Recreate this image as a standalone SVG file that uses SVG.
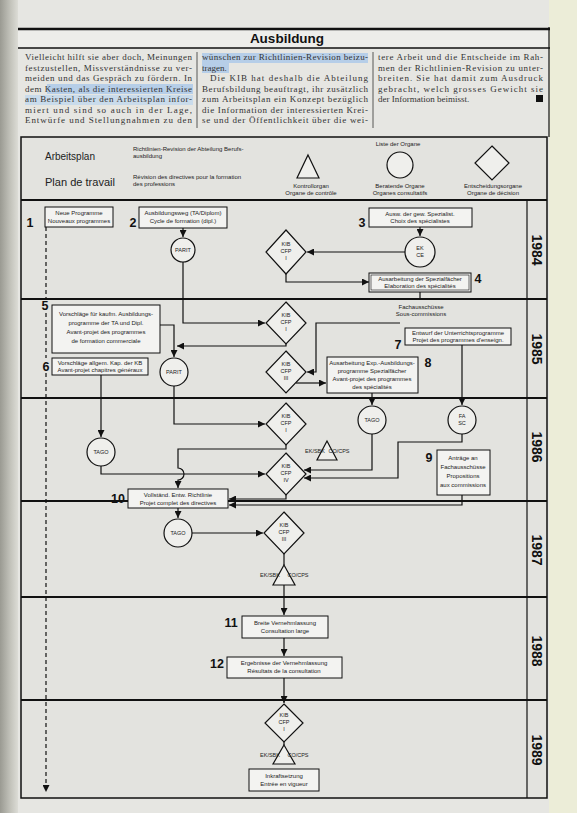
<svg xmlns="http://www.w3.org/2000/svg" width="577" height="813" viewBox="0 0 577 813">
<defs>
<linearGradient id="edge" x1="0" x2="1" y1="0" y2="0">
<stop offset="0" stop-color="#9a9a92"/><stop offset="0.6" stop-color="#c4c4bc"/><stop offset="1" stop-color="#dcdcd6"/>
</linearGradient>
<marker id="ah" viewBox="0 0 10 10" refX="10" refY="5" markerWidth="7" markerHeight="7" orient="auto" markerUnits="userSpaceOnUse"><path d="M0,0 L10,5 L0,10 z" fill="#111"/></marker>
<style>
.ln{fill:none;stroke:#111;stroke-width:1.2}
.ar{fill:none;stroke:#111;stroke-width:1.2;marker-end:url(#ah)}
.bx{fill:#f3f3f1;stroke:#111;stroke-width:1}
.sym{fill:#efefec;stroke:#111;stroke-width:1.2}
.sec{stroke:#111;stroke-width:2.2}
.t{font-family:"Liberation Sans",Arial,sans-serif;font-size:6px;fill:#222;text-anchor:middle}
.s{font-family:"Liberation Sans",Arial,sans-serif;font-size:5.5px;fill:#222;text-anchor:middle}
.num{font-family:"Liberation Sans",Arial,sans-serif;font-weight:bold;font-size:12.5px;fill:#111;text-anchor:middle}
.yr{font-family:"Liberation Sans",Arial,sans-serif;font-weight:bold;font-size:14px;fill:#111;text-anchor:middle}
.body{font-family:"Liberation Serif","Times New Roman",serif;font-size:9px;fill:#333}
.lg{font-family:"Liberation Sans",Arial,sans-serif;font-size:11.5px;fill:#222}
.lgs{font-family:"Liberation Sans",Arial,sans-serif;font-size:6px;fill:#222}
</style>
</defs>

<!-- page -->
<rect x="0" y="0" width="577" height="813" fill="#e6e6e2"/>
<rect x="0" y="0" width="18" height="813" fill="url(#edge)"/>
<rect x="549" y="0" width="28" height="813" fill="#ecedd8"/>

<!-- header -->
<g id="header">
<rect x="18" y="29" width="531" height="19" fill="#ededea"/>
<line x1="18" y1="29" x2="550" y2="29" stroke="#111" stroke-width="2.5"/>
<line x1="18" y1="48" x2="550" y2="48" stroke="#111" stroke-width="1.3"/>
<line x1="549" y1="27" x2="549" y2="137" stroke="#111" stroke-width="1.2"/>
<text x="287" y="43" font-family="Liberation Sans, Arial, sans-serif" font-weight="bold" font-size="13.5" fill="#111" text-anchor="middle">Ausbildung</text>
</g>

<!-- body text -->
<g id="bodytext">
<rect x="47" y="84" width="146" height="10" fill="#aac8ea" opacity="0.8"/>
<rect x="25" y="95" width="168" height="10" fill="#c2d8ee" opacity="0.8"/>
<rect x="202" y="53" width="166" height="10" fill="#aac8ea" opacity="0.8"/>
<rect x="202" y="63" width="27" height="10" fill="#aac8ea" opacity="0.8"/>
<line x1="197" y1="52" x2="197" y2="128" stroke="#333" stroke-width="0.8"/>
<line x1="373" y1="52" x2="373" y2="128" stroke="#333" stroke-width="0.8"/>
<text class="body" x="25" y="60" textLength="167" lengthAdjust="spacing">Vielleicht hilft sie aber doch, Meinungen</text>
<text class="body" x="25" y="70.5" textLength="167" lengthAdjust="spacing">festzustellen, Missverständnisse zu ver-</text>
<text class="body" x="25" y="81" textLength="167" lengthAdjust="spacing">meiden und das Gespräch zu fördern. In</text>
<text class="body" x="25" y="91.5" textLength="167" lengthAdjust="spacing">dem Kasten, als die interessierten Kreise</text>
<text class="body" x="25" y="102" textLength="167" lengthAdjust="spacing">am Beispiel über den Arbeitsplan infor-</text>
<text class="body" x="25" y="112.5" textLength="167" lengthAdjust="spacing">miert und sind so auch in der Lage,</text>
<text class="body" x="25" y="123" textLength="167" lengthAdjust="spacing">Entwürfe und Stellungnahmen zu den</text>
<text class="body" x="202" y="60" textLength="166" lengthAdjust="spacing">wünschen zur Richtlinien-Revision beizu-</text>
<text class="body" x="202" y="70.5">tragen.</text>
<text class="body" x="210" y="81" textLength="158" lengthAdjust="spacing">Die KIB hat deshalb die Abteilung</text>
<text class="body" x="202" y="91.5" textLength="166" lengthAdjust="spacing">Berufsbildung beauftragt, ihr zusätzlich</text>
<text class="body" x="202" y="102" textLength="166" lengthAdjust="spacing">zum Arbeitsplan ein Konzept bezüglich</text>
<text class="body" x="202" y="112.5" textLength="166" lengthAdjust="spacing">die Information der interessierten Krei-</text>
<text class="body" x="202" y="123" textLength="166" lengthAdjust="spacing">se und der Öffentlichkeit über die wei-</text>
<text class="body" x="378" y="60" textLength="165" lengthAdjust="spacing">tere Arbeit und die Entscheide im Rah-</text>
<text class="body" x="378" y="70.5" textLength="165" lengthAdjust="spacing">men der Richtlinien-Revision zu unter-</text>
<text class="body" x="378" y="81" textLength="165" lengthAdjust="spacing">breiten. Sie hat damit zum Ausdruck</text>
<text class="body" x="378" y="91.5" textLength="165" lengthAdjust="spacing">gebracht, welch grosses Gewicht sie</text>
<text class="body" x="378" y="102">der Information beimisst.</text>
<rect x="536" y="95" width="7" height="7" fill="#111"/>
</g>

<!-- chart frame and sections -->
<g id="frame">
<rect x="21" y="137" width="526" height="661" fill="#e3e3df" stroke="#111" stroke-width="1.5"/>
<line x1="527" y1="200" x2="527" y2="798" stroke="#111" stroke-width="1.2"/>
<line class="sec" x1="21" y1="200" x2="547" y2="200"/>
<line class="sec" x1="21" y1="299" x2="547" y2="299"/>
<line class="sec" x1="21" y1="398" x2="547" y2="398"/>
<line class="sec" x1="21" y1="501" x2="547" y2="501"/>
<line class="sec" x1="21" y1="597" x2="547" y2="597"/>
<line class="sec" x1="21" y1="700" x2="547" y2="700"/>
<text class="yr" transform="translate(532,250) rotate(90)">1984</text>
<text class="yr" transform="translate(532,349) rotate(90)">1985</text>
<text class="yr" transform="translate(532,447) rotate(90)">1986</text>
<text class="yr" transform="translate(532,550) rotate(90)">1987</text>
<text class="yr" transform="translate(532,651) rotate(90)">1988</text>
<text class="yr" transform="translate(532,750) rotate(90)">1989</text>
</g>

<!-- legend -->
<g id="legend">
<text class="lg" x="45" y="160" textLength="50" lengthAdjust="spacingAndGlyphs">Arbeitsplan</text>
<text class="lg" x="45" y="186" textLength="70" lengthAdjust="spacingAndGlyphs">Plan de travail</text>
<text class="lgs" x="133" y="151">Richtlinien-Revision der Abteilung Berufs-</text>
<text class="lgs" x="133" y="158">ausbildung</text>
<text class="lgs" x="133" y="179">Révision des directives pour la formation</text>
<text class="lgs" x="133" y="186">des professions</text>
<text class="lgs" x="398" y="146" text-anchor="middle">Liste der Organe</text>
<path class="sym" d="M308,155 L319,178 L297,178 Z"/>
<text class="lgs" x="311" y="188" text-anchor="middle">Kontrollorgan</text>
<text class="lgs" x="311" y="195" text-anchor="middle">Organe de contrôle</text>
<circle class="sym" cx="400" cy="165" r="13"/>
<text class="lgs" x="400" y="188" text-anchor="middle">Beratende Organe</text>
<text class="lgs" x="400" y="195" text-anchor="middle">Organes consultatifs</text>
<path class="sym" d="M492,146 L509,163 L492,180 L475,163 Z"/>
<text class="lgs" x="493" y="188" text-anchor="middle">Entscheidungsorgane</text>
<text class="lgs" x="493" y="195" text-anchor="middle">Organe de décision</text>
</g>

<!-- connectors -->
<g id="connectors">
<path class="ln" d="M46,227 V300" stroke-dasharray="4 3"/>
<path class="ln" d="M46,313 V358" stroke-dasharray="4 3"/>
<path class="ar" d="M46,373 V792" stroke-dasharray="4 3"/>
<path class="ar" d="M183,228 V237"/>
<path class="ar" d="M420,227 V236"/>
<path class="ar" d="M405,252 H307"/>
<path class="ar" d="M286,274 V282 H369"/>
<path class="ln" d="M420,292 V300"/>
<path class="ar" d="M183,262 V323 H265"/>
<path class="ar" d="M160,325 H174 V357"/>
<path class="ar" d="M286,344 V346 H177"/>
<path class="ar" d="M400,323 H316 V372 H307"/>
<path class="ar" d="M296,383 H326"/>
<path class="ar" d="M462,345 V405"/>
<path class="ar" d="M372,393 V405"/>
<path class="ar" d="M101,375 V437"/>
<path class="ar" d="M174,386 V424 H265"/>
<path class="ar" d="M286,445 V449 H178 V468 a6,6 0 0 1 0,12 V488"/>
<path class="ar" d="M101,466 V474 H265"/>
<path class="ar" d="M372,434 V470 H304"/>
<path class="ar" d="M462,434 V442 H398 V478 H304"/>
<path class="ar" d="M286,495 V499 H229"/>
<path class="ar" d="M462,495 V505 H229"/>
<path class="ar" d="M178,508 V518"/>
<path class="ar" d="M192,533 H263"/>
<path class="ln" d="M284,554 V565"/>
<path class="ar" d="M284,585 V615"/>
<path class="ar" d="M284,638 V656"/>
<path class="ar" d="M284,678 V703"/>
<path class="ln" d="M284,742 V745"/>
</g>

<!-- 1984 -->
<g id="n1"><rect class="bx" x="45" y="207" width="68" height="20"/><text class="t" x="79" y="215">Neue Programme</text><text class="t" x="79" y="223">Nouveaux programmes</text><text class="num" x="30" y="227">1</text></g>
<g id="n2"><rect class="bx" x="139" y="207" width="88" height="21"/><text class="t" x="183" y="215">Ausbildungsweg (TA/Diplom)</text><text class="t" x="183" y="223">Cycle de formation (dipl.)</text><text class="num" x="133" y="227">2</text></g>
<g id="parit1"><circle class="sym" cx="183" cy="250" r="12"/><text class="s" x="183" y="252">PARIT</text></g>
<g id="kib1"><path class="sym" d="M286,230 L306,252 L286,274 L266,252 Z"/><text class="s" x="286" y="246">KIB</text><text class="s" x="286" y="253">CFP</text><text class="s" x="286" y="260">I</text></g>
<g id="n3"><rect class="bx" x="369" y="208" width="103" height="19"/><text class="t" x="420" y="216">Ausw. der gew. Spezialist.</text><text class="t" x="420" y="223">Choix des spécialistes</text><text class="num" x="362" y="227">3</text></g>
<g id="ek"><circle class="sym" cx="420" cy="252" r="15"/><text class="s" x="420" y="250">EK</text><text class="s" x="420" y="257">CE</text></g>
<g id="n4"><rect class="bx" x="369" y="273" width="102" height="19"/><rect x="371" y="275" width="98" height="15" fill="none" stroke="#111" stroke-width="0.6"/><text class="t" x="420" y="281">Ausarbeitung der Spezialfächer</text><text class="t" x="420" y="288">Elaboration des spécialités</text><text class="num" x="478" y="283">4</text></g>

<!-- 1985 -->
<g id="fa-label"><text class="t" x="421" y="309">Fachausschüsse</text><text class="t" x="421" y="316">Sous-commissions</text></g>
<g id="n5"><rect class="bx" x="52" y="305" width="108" height="48"/><text class="t" x="106" y="316">Vorschläge für kaufm. Ausbildungs-</text><text class="t" x="106" y="325">programme der TA und Dipl.</text><text class="t" x="106" y="334">Avant-projet des programmes</text><text class="t" x="106" y="343">de formation commerciale</text><text class="num" x="45" y="310">5</text></g>
<g id="n6"><rect class="bx" x="52" y="358" width="96" height="17"/><text class="t" x="100" y="365">Vorschläge allgem. Kap. der KB</text><text class="t" x="100" y="372">Avant-projet chapitres généraux</text><text class="num" x="46" y="371">6</text></g>
<g id="parit2"><circle class="sym" cx="174" cy="372" r="14"/><text class="s" x="174" y="374">PARIT</text></g>
<g id="kib2"><path class="sym" d="M286,302 L306,323 L286,344 L266,323 Z"/><text class="s" x="286" y="317">KIB</text><text class="s" x="286" y="324">CFP</text><text class="s" x="286" y="331">I</text></g>
<g id="kib3"><path class="sym" d="M286,351 L306,372 L286,393 L266,372 Z"/><text class="s" x="286" y="366">KIB</text><text class="s" x="286" y="373">CFP</text><text class="s" x="286" y="380">III</text></g>
<g id="n7"><rect class="bx" x="405" y="328" width="106" height="17"/><text class="t" x="458" y="335">Entwurf der Unterrichtsprogramme</text><text class="t" x="458" y="342">Projet des programmes d'enseign.</text><text class="num" x="398" y="349">7</text></g>
<g id="n8"><rect class="bx" x="327" y="357" width="91" height="36" stroke-width="1.8"/><text class="t" x="372" y="365">Ausarbeitung Exp.-Ausbildungs-</text><text class="t" x="372" y="373">programme Spezialfächer</text><text class="t" x="372" y="381">Avant-projet des programmes</text><text class="t" x="372" y="389">des spécialités</text><text class="num" x="428" y="367">8</text></g>

<!-- 1986 -->
<g id="tago1"><circle class="sym" cx="101" cy="452" r="14"/><text class="s" x="101" y="454">TAGO</text></g>
<g id="kib4"><path class="sym" d="M286,403 L306,424 L286,445 L266,424 Z"/><text class="s" x="286" y="418">KIB</text><text class="s" x="286" y="425">CFP</text><text class="s" x="286" y="432">I</text></g>
<g id="kib5"><path class="sym" d="M286,453 L306,474 L286,495 L266,474 Z"/><text class="s" x="286" y="468">KIB</text><text class="s" x="286" y="475">CFP</text><text class="s" x="286" y="482">IV</text></g>
<g id="ctrl1"><path class="sym" d="M327,441 L337,460 L317,460 Z"/><text class="s" x="315" y="453" text-anchor="end">EK/SBK</text><text class="s" x="339" y="453" text-anchor="start">CO/CPS</text></g>
<g id="tago2"><circle class="sym" cx="372" cy="420" r="14"/><text class="s" x="372" y="422">TAGO</text></g>
<g id="fasc"><circle class="sym" cx="462" cy="420" r="14"/><text class="s" x="462" y="418">FA</text><text class="s" x="462" y="425">SC</text></g>
<g id="n9"><rect class="bx" x="437" y="450" width="53" height="45"/><text class="t" x="463" y="460">Anträge an</text><text class="t" x="463" y="469">Fachausschüsse</text><text class="t" x="463" y="478">Propositions</text><text class="t" x="463" y="487">aux commissions</text><text class="num" x="429" y="462">9</text></g>
<g id="n10"><rect class="bx" x="128" y="489" width="100" height="19"/><text class="t" x="178" y="497">Vollständ. Entw. Richtlinie</text><text class="t" x="178" y="505">Projet complet des directives</text><text class="num" x="118" y="503">10</text></g>

<!-- 1987 -->
<g id="tago3"><circle class="sym" cx="178" cy="533" r="14"/><text class="s" x="178" y="535">TAGO</text></g>
<g id="kib6"><path class="sym" d="M284,512 L304,533 L284,554 L264,533 Z"/><text class="s" x="284" y="527">KIB</text><text class="s" x="284" y="534">CFP</text><text class="s" x="284" y="541">III</text></g>
<g id="ctrl2"><path class="sym" d="M284,565 L295,585 L273,585 Z"/><text class="s" x="270" y="577" text-anchor="end">EK/SBK</text><text class="s" x="298" y="577" text-anchor="start">CO/CPS</text></g>

<!-- 1988 -->
<g id="n11"><rect class="bx" x="242" y="616" width="86" height="22"/><text class="t" x="285" y="625">Breite Vernehmlassung</text><text class="t" x="285" y="633">Consultation large</text><text class="num" x="231" y="627">11</text></g>
<g id="n12"><rect class="bx" x="227" y="657" width="115" height="21"/><text class="t" x="284" y="665">Ergebnisse der Vernehmlassung</text><text class="t" x="284" y="673">Résultats de la consultation</text><text class="num" x="217" y="668">12</text></g>

<!-- 1989 -->
<g id="kib7"><path class="sym" d="M284,704 L303,723 L284,742 L265,723 Z"/><text class="s" x="284" y="717">KIB</text><text class="s" x="284" y="724">CFP</text><text class="s" x="284" y="731">I</text></g>
<g id="ctrl3"><path class="sym" d="M284,745 L295,764 L273,764 Z"/><text class="s" x="270" y="757" text-anchor="end">EK/SBK</text><text class="s" x="298" y="757" text-anchor="start">CO/CPS</text></g>
<g id="n13"><rect class="bx" x="249" y="769" width="70" height="22"/><text class="t" x="284" y="778">Inkraftsetzung</text><text class="t" x="284" y="786">Entrée en vigueur</text></g>
</svg>
